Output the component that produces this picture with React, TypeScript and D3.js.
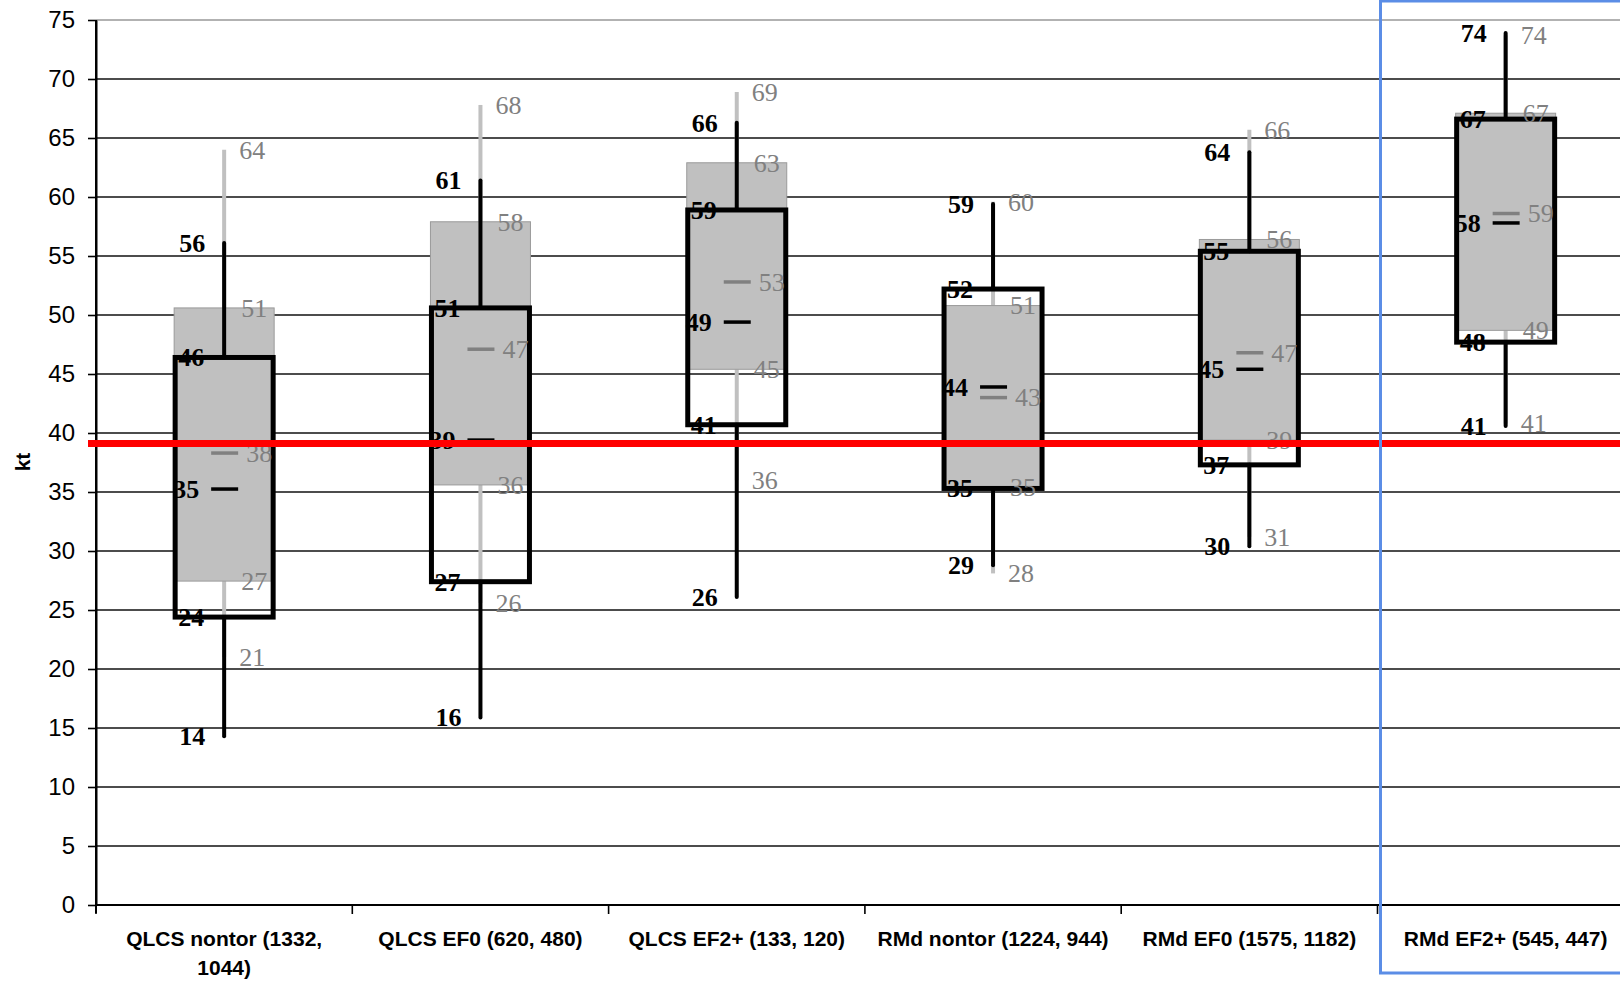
import React, { useRef, useEffect } from 'react';
import * as d3 from 'd3';

const categories = [
  'QLCS nontor (1332, 1044)',
  'QLCS EF0 (620, 480)',
  'QLCS EF2+ (133, 120)',
  'RMd nontor (1224, 944)',
  'RMd EF0 (1575, 1182)',
  'RMd EF2+ (545, 447)',
];

// black series (front boxes)
const blackMin = [14.3, 15.9, 26.1, 28.8, 30.4, 40.6];
const blackQ1 = [24.4, 27.4, 40.7, 35.3, 37.3, 47.7];
const blackMedian = [35.25, 39.4, 49.4, 43.9, 45.4, 57.8];
const blackQ3 = [46.4, 50.6, 58.9, 52.2, 55.4, 66.6];
const blackMax = [56.1, 61.4, 66.3, 59.4, 63.8, 73.9];

// gray series (back boxes)
const grayMin = [21, 25.6, 36, 28.1, 31.2, 40.8];
const grayQ1 = [27.45, 35.6, 45.4, 35.45, 39.4, 48.7];
const grayMedian = [38.3, 47.1, 52.8, 43.0, 46.8, 58.6];
const grayQ3 = [50.6, 57.9, 62.9, 50.8, 56.4, 67.1];
const grayMax = [64.0, 67.8, 68.9, 59.6, 65.7, 73.7];

const yTicks = d3.range(0, 80, 5);
const threshold = 39.1;

export default function App() {
  const ref = useRef<SVGSVGElement>(null);

  useEffect(() => {
    const svg = d3.select(ref.current);
    svg.selectAll('*').remove();
    const width = 1620;
    const left = 96, top = 20, bottom = 905;
    const band = 256.3;

    const x = d3.scaleBand<string>()
      .domain(categories)
      .range([left, left + band * categories.length])
      .padding(0);
    const y = d3.scaleLinear().domain([0, 75]).range([bottom, top]);
    const cx = (i: number) => x(categories[i])! + x.bandwidth() / 2;

    // gridlines
    svg.append('g')
      .selectAll('line')
      .data(yTicks.filter(t => t > 0))
      .join('line')
      .attr('x1', left).attr('x2', width)
      .attr('y1', d => y(d)).attr('y2', d => y(d))
      .attr('stroke', d => d === 75 ? '#999' : '#111')
      .attr('stroke-width', 1.6);

    // y axis
    const yAxis = svg.append('g')
      .attr('transform', `translate(${left},0)`)
      .call(d3.axisLeft(y).tickValues(yTicks).tickSize(8).tickSizeOuter(0).tickPadding(13));
    yAxis.select('.domain').attr('stroke', '#000').attr('stroke-width', 2);
    yAxis.selectAll('line').attr('stroke', '#000').attr('stroke-width', 1.6);
    yAxis.selectAll('text')
      .attr('font-family', '"Liberation Sans", Arial, sans-serif')
      .attr('font-size', 24)
      .attr('fill', '#000');
    svg.append('line')
      .attr('x1', left).attr('x2', left).attr('y1', top).attr('y2', bottom + 8)
      .attr('stroke', '#000').attr('stroke-width', 2);

    // x axis
    svg.append('line')
      .attr('x1', left).attr('x2', width).attr('y1', bottom).attr('y2', bottom)
      .attr('stroke', '#000').attr('stroke-width', 2.2);
    svg.append('g')
      .selectAll('line')
      .data(categories)
      .join('line')
      .attr('x1', d => x(d)!).attr('x2', d => x(d)!)
      .attr('y1', bottom).attr('y2', bottom + 9)
      .attr('stroke', '#000').attr('stroke-width', 1.6);

    // category labels with wrapping
    const catG = svg.append('g')
      .attr('font-family', '"Liberation Sans", Arial, sans-serif')
      .attr('font-weight', 'bold')
      .attr('font-size', 21)
      .attr('text-anchor', 'middle');
    categories.forEach((c, i) => {
      const t = catG.append('text').attr('x', cx(i)).attr('y', 946);
      const words = c.split(' ');
      let line: string[] = [];
      let ts = t.append('tspan').attr('x', cx(i)).attr('y', 946);
      let ln = 0;
      words.forEach(w => {
        line.push(w);
        ts.text(line.join(' '));
        if ((ts.node() as SVGTSpanElement).getComputedTextLength() > 250 && line.length > 1) {
          line.pop();
          ts.text(line.join(' '));
          line = [w];
          ln += 1;
          ts = t.append('tspan').attr('x', cx(i)).attr('y', 946 + ln * 29).text(w);
        }
      });
    });

    // axis title
    svg.append('text')
      .attr('transform', 'translate(30,462) rotate(-90)')
      .attr('text-anchor', 'middle')
      .attr('font-family', '"Liberation Sans", Arial, sans-serif')
      .attr('font-weight', 'bold')
      .attr('font-size', 21)
      .text('kt');

    const idx = d3.range(categories.length);
    const plot = svg.append('g');

    // gray whiskers
    plot.selectAll('.gw-top').data(idx).join('line')
      .attr('x1', cx).attr('x2', cx)
      .attr('y1', i => y(grayQ3[i])).attr('y2', i => y(grayMax[i]))
      .attr('stroke', '#c0c0c0').attr('stroke-width', 4);
    plot.selectAll('.gw-bot').data(idx).join('line')
      .attr('x1', cx).attr('x2', cx)
      .attr('y1', i => y(grayQ1[i])).attr('y2', i => y(grayMin[i]))
      .attr('stroke', '#c0c0c0').attr('stroke-width', 4);

    // gray boxes
    plot.selectAll('.gbox').data(idx).join('rect')
      .attr('x', i => cx(i) - 50)
      .attr('width', 100)
      .attr('y', i => y(grayQ3[i]))
      .attr('height', i => y(grayQ1[i]) - y(grayQ3[i]))
      .attr('fill', '#c0c0c0')
      .attr('stroke', '#9a9a9a').attr('stroke-width', 1);
    plot.selectAll('.gmed').data(idx).join('line')
      .attr('x1', i => cx(i) - 13).attr('x2', i => cx(i) + 14)
      .attr('y1', i => y(grayMedian[i])).attr('y2', i => y(grayMedian[i]))
      .attr('stroke', '#808080').attr('stroke-width', 3.5);

    // black whiskers
    plot.selectAll('.bw-top').data(idx).join('line')
      .attr('x1', cx).attr('x2', cx)
      .attr('y1', i => y(blackQ3[i])).attr('y2', i => y(blackMax[i]))
      .attr('stroke', '#000').attr('stroke-width', 4).attr('stroke-linecap', 'round');
    plot.selectAll('.bw-bot').data(idx).join('line')
      .attr('x1', cx).attr('x2', cx)
      .attr('y1', i => y(blackQ1[i])).attr('y2', i => y(blackMin[i]))
      .attr('stroke', '#000').attr('stroke-width', 4).attr('stroke-linecap', 'round');

    // black boxes
    plot.selectAll('.bbox').data(idx).join('rect')
      .attr('x', i => cx(i) - 49)
      .attr('width', 98)
      .attr('y', i => y(blackQ3[i]))
      .attr('height', i => y(blackQ1[i]) - y(blackQ3[i]))
      .attr('fill', 'none')
      .attr('stroke', '#000').attr('stroke-width', 5);
    plot.selectAll('.bmed').data(idx).join('line')
      .attr('x1', i => cx(i) - 13).attr('x2', i => cx(i) + 14)
      .attr('y1', i => y(blackMedian[i])).attr('y2', i => y(blackMedian[i]))
      .attr('stroke', '#000').attr('stroke-width', 3.5);

    // value labels
    const fmt = (v: number) => String(Math.round(v));
    const blackLabels = svg.append('g')
      .attr('font-family', '"Liberation Serif", "Times New Roman", serif')
      .attr('font-weight', 'bold')
      .attr('font-size', 26)
      .attr('fill', '#000')
      .attr('text-anchor', 'end');
    const grayLabels = svg.append('g')
      .attr('font-family', '"Liberation Serif", "Times New Roman", serif')
      .attr('font-size', 26)
      .attr('fill', '#808080')
      .attr('text-anchor', 'start');

    const blackSets: [number[], number][] = [
      [blackMax, -19], [blackQ3, -20], [blackMedian, -25], [blackQ1, -20], [blackMin, -19],
    ];
    const graySets: [number[], number][] = [
      [grayMax, 15], [grayQ3, 17], [grayMedian, 22], [grayQ1, 17], [grayMin, 15],
    ];
    blackSets.forEach(([arr, dx]) => {
      idx.forEach(i => {
        blackLabels.append('text')
          .attr('x', cx(i) + dx)
          .attr('y', y(arr[i]))
          .attr('dy', '0.34em')
          .text(fmt(arr[i]));
      });
    });
    graySets.forEach(([arr, dx]) => {
      idx.forEach(i => {
        grayLabels.append('text')
          .attr('x', cx(i) + dx)
          .attr('y', y(arr[i]))
          .attr('dy', '0.34em')
          .text(fmt(arr[i]));
      });
    });

    // threshold line
    svg.append('line')
      .attr('x1', left - 8).attr('x2', width)
      .attr('y1', y(threshold)).attr('y2', y(threshold))
      .attr('stroke', '#ff0000').attr('stroke-width', 7);

    // selection frame around last category
    svg.append('rect')
      .attr('x', x(categories[5])! + 3)
      .attr('y', 1)
      .attr('width', 400)
      .attr('height', 972)
      .attr('fill', 'none')
      .attr('stroke', '#5b8de6')
      .attr('stroke-width', 3);
  }, []);

  return (
    <svg
      ref={ref}
      width={1620}
      height={982}
      style={{ position: 'absolute', left: 0, top: 0, background: '#fff' }}
      role="img"
      aria-label="Box plot of kt by category"
    />
  );
}
